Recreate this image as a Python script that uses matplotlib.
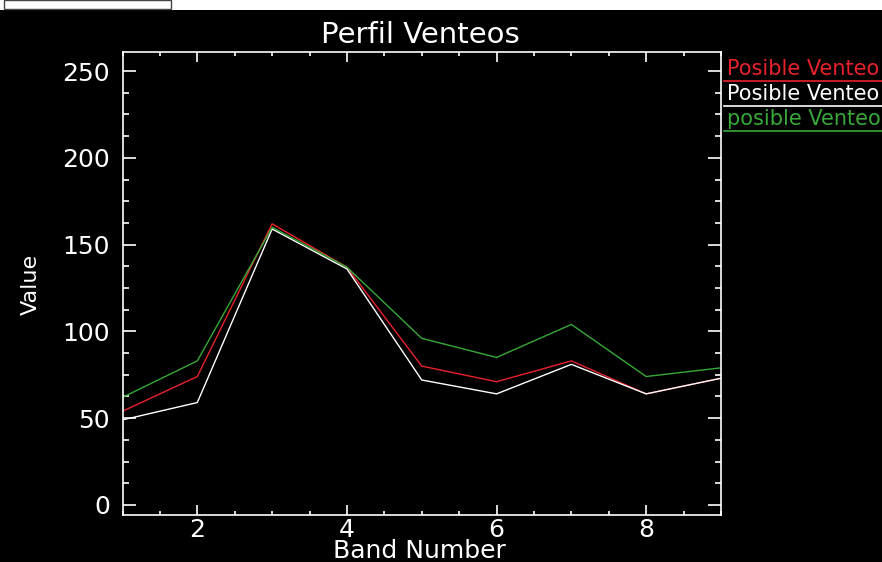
#!/usr/bin/env python3
# Perfil Venteos: tres perfiles por banda, estilo IDL (fondo negro)

import matplotlib
matplotlib.use("Agg")
import matplotlib.pyplot as plt
from matplotlib.patches import Rectangle
from matplotlib.ticker import MultipleLocator

bandas = [1, 2, 3, 4, 5, 6, 7, 8, 9]
venteo_rojo = [54, 74, 162, 137, 80, 71, 83, 64, 73]
venteo_blanco = [49, 59, 159, 136, 72, 64, 81, 64, 73]
venteo_verde = [62, 83, 160, 137, 96, 85, 104, 74, 79]

nombres = ["Posible Venteo 1", "Posible Venteo 2", "posible Venteo 3"]
colores = ["#e8222a", "#ffffff", "#38a838"]

W, H = 882, 562
fig = plt.figure(figsize=(W / 100, H / 100), dpi=100, facecolor="black")

# franja blanca de la ventana arriba
fig.add_artist(Rectangle((0, 1 - 10 / H), 1, 10 / H, transform=fig.transFigure,
                         facecolor="white", edgecolor="none"))
fig.add_artist(Rectangle((4 / W, 1 - 9 / H), 167 / W, 9 / H, transform=fig.transFigure,
                         facecolor="white", edgecolor="#444444", lw=1))

ax = fig.add_axes([122.5 / W, 47 / H, 598.5 / W, 463 / H], facecolor="black")

for y, c in zip([venteo_rojo, venteo_blanco, venteo_verde], colores):
    ax.plot(bandas, y, color=c, lw=1.0)

ax.set_xlim(1, 9)
ax.set_ylim(-5.8, 261)
ax.xaxis.set_major_locator(MultipleLocator(2))
ax.xaxis.set_minor_locator(MultipleLocator(0.5))
ax.yaxis.set_major_locator(MultipleLocator(50))
ax.yaxis.set_minor_locator(MultipleLocator(12.5))

for s in ax.spines.values():
    s.set_color("white")
    s.set_linewidth(1.2)

ax.tick_params(which="both", direction="in", colors="white", width=1.2,
               top=True, right=True, labelsize=18)
ax.tick_params(axis="y", which="major", length=9.4, pad=9)
ax.tick_params(axis="y", which="minor", length=4)
ax.tick_params(axis="x", which="major", length=7.2, pad=2.5)
ax.tick_params(axis="x", which="minor", length=3.2)

fig.text(420 / W, 1 - 43 / H, "Perfil Venteos", color="white", fontsize=21,
         ha="center", va="baseline")
fig.text(419 / W, 4 / H, "Band Number", color="white", fontsize=18,
         ha="center", va="baseline")
fig.text(31 / W, 1 - 284 / H, "Value", color="white", fontsize=16,
         rotation=90, ha="center", va="center")

# leyenda a la derecha (recortada por el borde)
for i, (nom, c) in enumerate(zip(nombres, colores)):
    base = 75 + 25 * i
    fig.text(727 / W, 1 - base / H, nom, color=c, fontsize=15,
             ha="left", va="baseline")
    fig.add_artist(plt.Line2D([724 / W, 1], [1 - (base + 6) / H] * 2,
                              transform=fig.transFigure, color=c, lw=1.2))

fig.savefig("out.png", dpi=100, facecolor="black")
